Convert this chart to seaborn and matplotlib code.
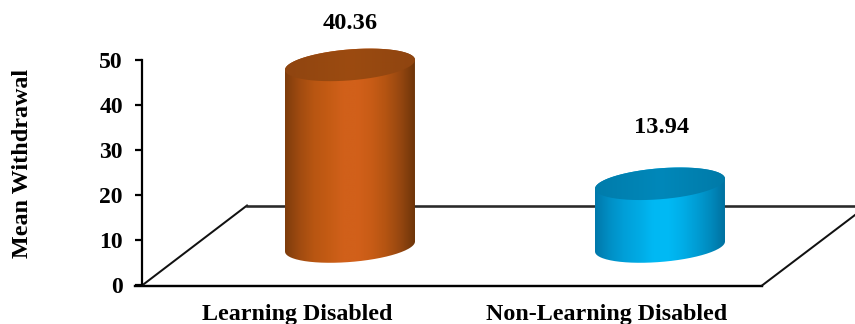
import numpy as np
import pandas as pd
import seaborn as sns
import matplotlib
matplotlib.use("Agg")
import matplotlib.pyplot as plt
from matplotlib.colors import LinearSegmentedColormap
from matplotlib.lines import Line2D
from matplotlib.patches import PathPatch
from matplotlib.path import Path
from matplotlib.transforms import ScaledTranslation

groups = ["Learning Disabled", "Non-Learning Disabled"]
mean_withdrawal = [40.36, 13.94]
y_ticks = [0, 10, 20, 30, 40, 50]

side_shades = [
    ["#7e3c0c", "#a04b10", "#b85612", "#c45b14", "#d0601a", "#d2601a", "#c85c16", "#b45412", "#964710", "#6e3509"],
    ["#0078aa", "#008fc5", "#009fd8", "#00aae4", "#00b8f3", "#00baf5", "#00aee8", "#009dd4", "#0089bc", "#006f9e"],
]
lid_shades = [
    ["#8f4510", "#9c4b10", "#8f4510"],
    ["#007cab", "#0088ba", "#007aa8"],
]

W, H = 855, 324
sns.set_theme(style="white")
plt.rcParams["font.family"] = ["Liberation Serif", "DejaVu Serif"]
plt.rcParams["font.weight"] = "bold"

fig = plt.figure(figsize=(W / 100, H / 100), dpi=100)
ax = fig.add_axes([142 / W, 1 - 285 / H, (W - 142) / W, 225 / H])
sns.despine(ax=ax)

df = pd.DataFrame({"group": groups, "mean": mean_withdrawal})
sns.barplot(data=df, x="group", y="mean", ax=ax, width=130 / 310, color="#cccccc")

XLIM = (-208 / 310, 1 + 195 / 310)
YLIM = (0, 50)
ax.set_xlim(*XLIM)
ax.set_ylim(*YLIM)
ax.set_xlabel("")
ax.set_ylabel("")
ax.set_yticks(y_ticks)


def fx(x):
    return x / W


def fy(y):
    return 1 - y / H


# Perspective floor, in pixel coordinates of the figure
floor_lines = [
    ([135, 762], [285.5, 285.5], 2.4, "#000000"),
    ([142, 247], [285.5, 205.5], 2.0, "#111111"),
    ([762, 855], [285.5, 215], 2.0, "#111111"),
    ([247, 855], [205.5, 205.5], 2.6, "#2a2a2a"),
]
for xs, ys, lw, col in floor_lines:
    fig.add_artist(Line2D([fx(v) for v in xs], [fy(v) for v in ys], lw=lw * 0.72,
                          color=col, transform=fig.transFigure, zorder=0.5,
                          solid_capstyle="projecting"))

ax.patch.set_visible(False)
ax.set_zorder(2)

# Cylinder geometry: the floor lifts each base above zero, and each
# ellipse is sheared to follow the perspective of the floor
BASE = 38.5 / 4.5
DEPTH = 15.5 / 4.5
TILT = 5 / 4.5
theta = np.linspace(0, 2 * np.pi, 181)
grad = np.linspace(0, 1, 256).reshape(1, -1)


def ellipse(cx, cy, half, angles):
    return (cx + half * np.cos(angles),
            cy + TILT * np.cos(angles) + DEPTH * np.sin(angles))


for bar, side, lid in zip(list(ax.patches), side_shades, lid_shades):
    half = bar.get_width() / 2
    cx = bar.get_x() + half
    top = BASE + bar.get_height()
    bar.set_visible(False)

    # Outline: near half of the base ellipse, then the far half of the lid
    lo_x, lo_y = ellipse(cx, BASE, half, np.linspace(np.pi, 2 * np.pi, 91))
    up_x, up_y = ellipse(cx, top, half, np.linspace(0, np.pi, 91))
    outline = np.column_stack([np.r_[lo_x, up_x], np.r_[lo_y, up_y]])
    body_clip = PathPatch(Path(outline), transform=ax.transData)

    body = ax.imshow(grad, cmap=LinearSegmentedColormap.from_list("side", side),
                     extent=(cx - half, cx + half, BASE - 2 * DEPTH, top + 2 * DEPTH),
                     aspect="auto", zorder=3, interpolation="bilinear")
    body.set_clip_path(body_clip)
    body.set_clip_box(fig.bbox)

    tx, ty = ellipse(cx, top, half, theta)
    lid_clip = PathPatch(Path(np.column_stack([tx, ty])), transform=ax.transData)
    cap = ax.imshow(grad, cmap=LinearSegmentedColormap.from_list("lid", lid),
                    extent=(cx - half, cx + half, top - 2 * DEPTH, top + 2 * DEPTH),
                    aspect="auto", zorder=4, interpolation="bilinear")
    cap.set_clip_path(lid_clip)
    cap.set_clip_box(fig.bbox)

ax.set_xlim(*XLIM)
ax.set_ylim(*YLIM)

# Value labels float above the cylinders
label_rise = [41, 56]
label_shift = [0, 2]
for bar, value, rise, shift in zip(ax.patches, mean_withdrawal, label_rise, label_shift):
    ax.annotate(f"{value:.2f}", xy=(bar.get_x() + bar.get_width() / 2, BASE + value),
                xytext=(shift * 0.72, rise * 0.72), textcoords="offset points",
                ha="center", va="center", fontsize=17.6, fontweight="bold",
                color="#000000", annotation_clip=False)

ax.spines["left"].set_linewidth(1.6)
ax.spines["left"].set_color("#000000")
ax.spines["bottom"].set_visible(False)
ax.tick_params(axis="y", length=5.2, width=1.6, color="#000000", left=True, pad=8.5,
               labelsize=17, labelcolor="#000000")
ax.tick_params(axis="x", length=0, pad=14, labelsize=17.3, labelcolor="#000000")

# Category labels sit on the front edge of the floor, left of the cylinders
label_offset = ScaledTranslation(-53 / 100, 0, fig.dpi_scale_trans)
for lab in ax.get_xticklabels():
    lab.set_transform(lab.get_transform() + label_offset)
for lab in ax.get_xticklabels() + ax.get_yticklabels():
    lab.set_fontweight("bold")

fig.text(22 / W, 1 - 163 / H, "Mean Withdrawal", rotation=90, ha="center", va="center",
         fontsize=17.4, fontweight="bold", color="#000000")

fig.savefig("out.png", dpi=100, facecolor="white")
